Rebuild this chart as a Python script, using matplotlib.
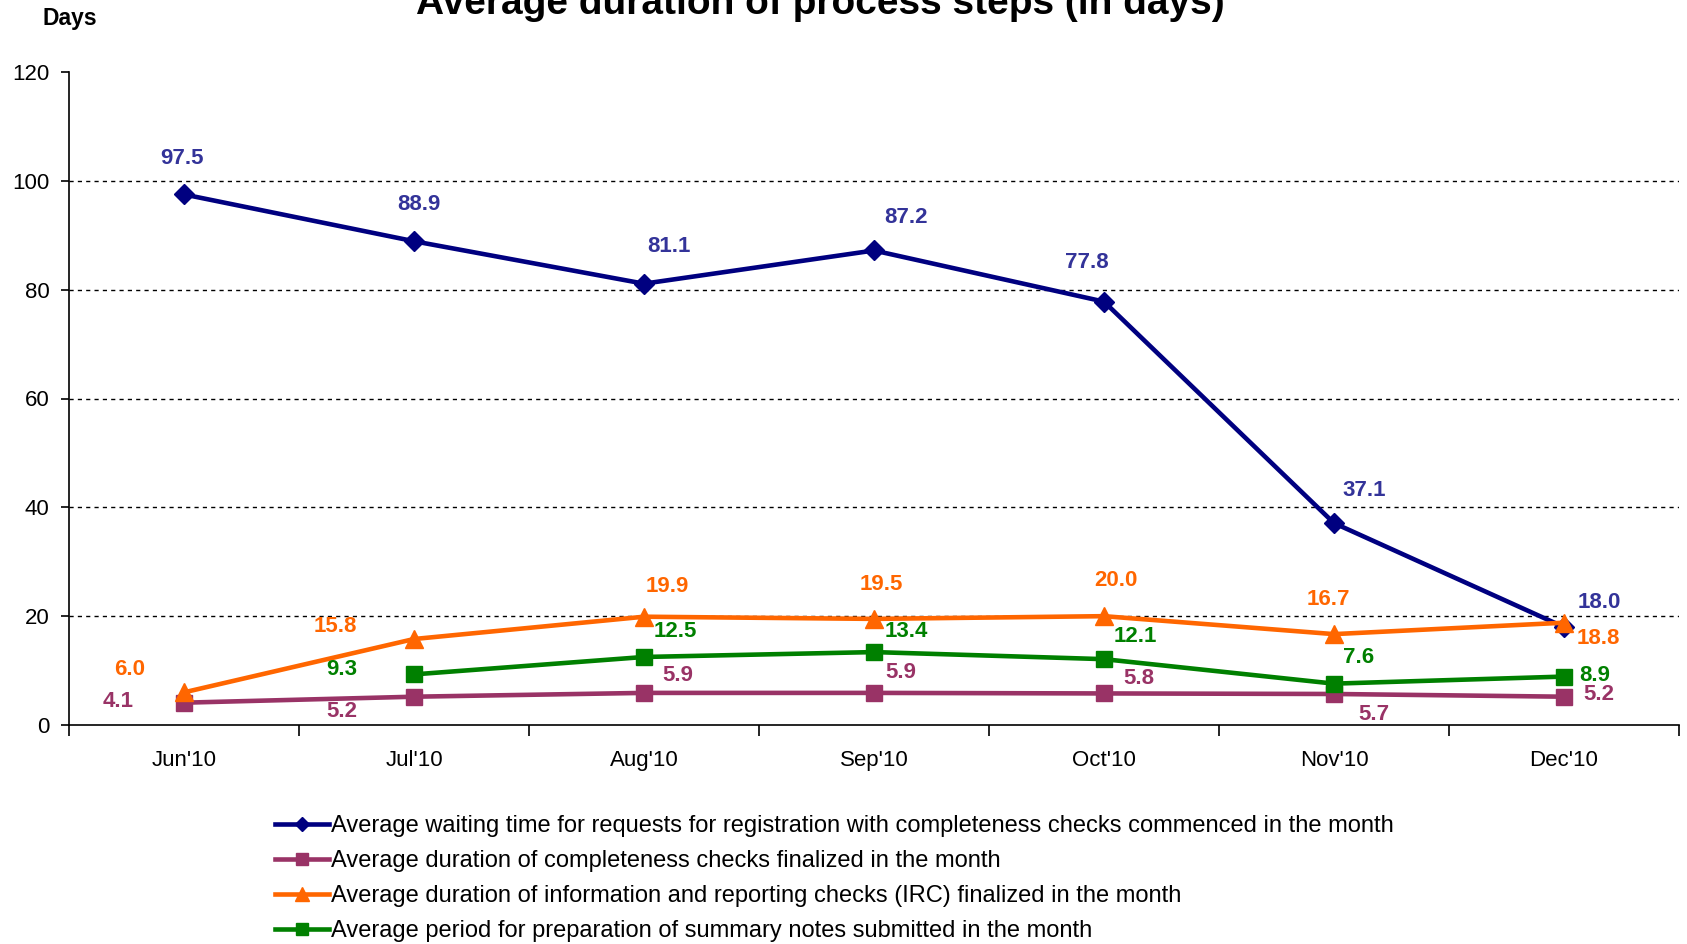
import numpy as np
import matplotlib
matplotlib.use("Agg")
import matplotlib.pyplot as plt

months = ["Jun'10", "Jul'10", "Aug'10", "Sep'10", "Oct'10", "Nov'10", "Dec'10"]
waiting = [97.5, 88.9, 81.1, 87.2, 77.8, 37.1, 18.0]
completeness = [4.1, 5.2, 5.9, 5.9, 5.8, 5.7, 5.2]
irc = [6.0, 15.8, 19.9, 19.5, 20.0, 16.7, 18.8]
summary = [None, 9.3, 12.5, 13.4, 12.1, 7.6, 8.9]

names = [
    "Average waiting time for requests for registration with completeness checks commenced in the month",
    "Average duration of completeness checks finalized in the month",
    "Average duration of information and reporting checks (IRC) finalized in the month",
    "Average period for preparation of summary notes submitted in the month",
]

# label offsets (pixels in the shrunk reference, scaled below)
off_waiting = [(-2, 33), (5, 34), (23, 35), (30, 31), (-16, 36), (28, 30), (33, 23)]
off_compl = [(-61, 1), (-67, -14), (31, 16), (25, 19), (32, 14), (37, -19), (32, 2)]
off_irc = [(-51, 21), (-73, 12), (22, 28), (7, 32), (11, 33), (-5, 32), (32, -15)]
off_summary = [None, (-67, 5), (29, 24), (30, 19), (29, 21), (23, 24), (29, 1)]
S = 1687 / 1568

plt.rcParams['font.family'] = ['Liberation Sans', 'DejaVu Sans']

fig = plt.figure(figsize=(16.87, 9.44), dpi=100)
ax = fig.add_axes([69 / 1687, 1 - 725 / 944, (1679 - 69) / 1687, (725 - 72) / 944])

x = np.arange(len(months))
series = [
    (waiting, '#000080', '#333399', 'D', 10, off_waiting),
    (completeness, '#993366', '#993366', 's', 12, off_compl),
    (irc, '#FF6600', '#FF6600', '^', 13, off_irc),
    (summary, '#008000', '#008000', 's', 12, off_summary),
]
handles = []
for i, (vals, col, lcol, mk, ms, offs) in enumerate(series):
    y = np.array([np.nan if v is None else v for v in vals], dtype=float)
    h, = ax.plot(x, y, color=col, lw=3.3, marker=mk, ms=ms, mec=col, mfc=col,
                 zorder=3 + i, clip_on=False)
    handles.append(h)
    for xi, yi, o in zip(x, y, offs):
        if np.isnan(yi):
            continue
        ax.annotate(f"{yi:.1f}", (xi, yi), xytext=(o[0] * S, o[1] * S),
                    textcoords='offset pixels', ha='center', va='center',
                    color=lcol, fontsize=16, fontweight='bold', zorder=10)

ax.set_xlim(-0.5, 6.5)
ax.set_ylim(0, 120)
ax.set_yticks(np.arange(0, 121, 20))
for g in range(20, 101, 20):
    ax.axhline(g, color='black', lw=1, ls=(0, (3, 3)), zorder=1)

ax.set_xticks(np.arange(-0.5, 7, 1))
ax.set_xticklabels([])
ax.set_xticks(x, minor=True)
ax.set_xticklabels(months, minor=True)
ax.tick_params(axis='x', which='major', direction='out', length=8, width=1.2)
ax.tick_params(axis='x', which='minor', length=0, pad=18, labelsize=16)
ax.tick_params(axis='y', direction='out', length=6, width=1.2, labelsize=16, pad=8)
for s in ['top', 'right']:
    ax.spines[s].set_visible(False)
for s in ['left', 'bottom']:
    ax.spines[s].set_linewidth(1.2)

fig.text(820 / 1687, 1 - 14 / 944, "Average duration of process steps (in days)",
         ha='center', va='baseline', fontsize=28, fontweight='bold')
fig.text(70 / 1687, 1 - 19 / 944, "Days", ha='center', va='center',
         fontsize=16.5, fontweight='bold')

fig.legend(handles, names, loc='upper left', bbox_to_anchor=(263 / 1687, 1 - 803 / 944),
           frameon=False, fontsize=17, handlelength=2.3, handletextpad=0.1,
           labelspacing=0.55, borderpad=0, markerscale=0.75)

fig.savefig("out.png", dpi=100)
